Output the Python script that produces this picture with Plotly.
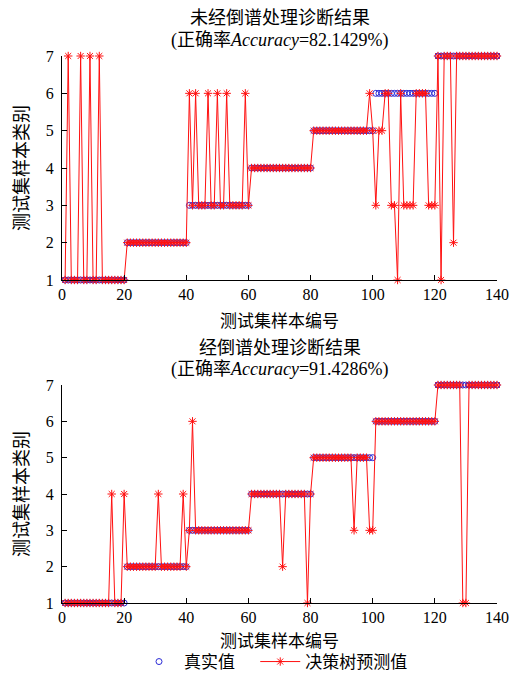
import plotly.graph_objects as go

sample_idx = list(range(1, 141))

true_labels = [
    1, 1, 1, 1, 1, 1, 1, 1, 1, 1, 1, 1, 1, 1, 1, 1, 1, 1, 1, 1,
    2, 2, 2, 2, 2, 2, 2, 2, 2, 2, 2, 2, 2, 2, 2, 2, 2, 2, 2, 2,
    3, 3, 3, 3, 3, 3, 3, 3, 3, 3, 3, 3, 3, 3, 3, 3, 3, 3, 3, 3,
    4, 4, 4, 4, 4, 4, 4, 4, 4, 4, 4, 4, 4, 4, 4, 4, 4, 4, 4, 4,
    5, 5, 5, 5, 5, 5, 5, 5, 5, 5, 5, 5, 5, 5, 5, 5, 5, 5, 5, 5,
    6, 6, 6, 6, 6, 6, 6, 6, 6, 6, 6, 6, 6, 6, 6, 6, 6, 6, 6, 6,
    7, 7, 7, 7, 7, 7, 7, 7, 7, 7, 7, 7, 7, 7, 7, 7, 7, 7, 7, 7,
]

pred_raw = [
    1, 7, 1, 1, 1, 7, 1, 1, 7, 1, 1, 7, 1, 1, 1, 1, 1, 1, 1, 1,
    2, 2, 2, 2, 2, 2, 2, 2, 2, 2, 2, 2, 2, 2, 2, 2, 2, 2, 2, 2,
    6, 3, 6, 3, 3, 3, 6, 3, 3, 6, 3, 3, 6, 3, 3, 3, 3, 3, 6, 3,
    4, 4, 4, 4, 4, 4, 4, 4, 4, 4, 4, 4, 4, 4, 4, 4, 4, 4, 4, 4,
    5, 5, 5, 5, 5, 5, 5, 5, 5, 5, 5, 5, 5, 5, 5, 5, 5, 5, 6, 5,
    3, 5, 5, 6, 6, 3, 3, 1, 6, 3, 3, 3, 3, 6, 6, 6, 6, 3, 3, 3,
    7, 1, 7, 7, 7, 2, 7, 7, 7, 7, 7, 7, 7, 7, 7, 7, 7, 7, 7, 7,
]

pred_cep = [
    1, 1, 1, 1, 1, 1, 1, 1, 1, 1, 1, 1, 1, 1, 1, 4, 1, 1, 1, 4,
    2, 2, 2, 2, 2, 2, 2, 2, 2, 2, 4, 2, 2, 2, 2, 2, 2, 2, 4, 2,
    3, 6, 3, 3, 3, 3, 3, 3, 3, 3, 3, 3, 3, 3, 3, 3, 3, 3, 3, 3,
    4, 4, 4, 4, 4, 4, 4, 4, 4, 4, 2, 4, 4, 4, 4, 4, 4, 4, 1, 4,
    5, 5, 5, 5, 5, 5, 5, 5, 5, 5, 5, 5, 5, 3, 5, 5, 5, 5, 3, 3,
    6, 6, 6, 6, 6, 6, 6, 6, 6, 6, 6, 6, 6, 6, 6, 6, 6, 6, 6, 6,
    7, 7, 7, 7, 7, 7, 7, 7, 1, 1, 7, 7, 7, 7, 7, 7, 7, 7, 7, 7,
]

x_ticks = [0, 20, 40, 60, 80, 100, 120, 140]
y_ticks = [1, 2, 3, 4, 5, 6, 7]

title_top_1 = "未经倒谱处理诊断结果"
title_top_2 = "(正确率<i>Accuracy</i>=82.1429%)"
title_bot_1 = "经倒谱处理诊断结果"
title_bot_2 = "(正确率<i>Accuracy</i>=91.4286%)"
x_label = "测试集样本编号"
y_label = "测试集样本类别"
legend_true = "真实值"
legend_pred = "决策树预测值"

W, H = 522, 673
BLUE = "#2b2bd6"
RED = "#ff1010"
SERIF = "Times New Roman, Liberation Serif, DejaVu Serif, serif"
MIXED = "Times New Roman, Liberation Serif, Noto Sans CJK SC, serif"
CJK = "Noto Sans CJK SC"

fig = go.Figure()

for i, pred in enumerate([pred_raw, pred_cep]):
    xa = "x" if i == 0 else "x2"
    ya = "y" if i == 0 else "y2"
    fig.add_trace(go.Scatter(
        x=sample_idx, y=true_labels, mode="markers",
        name=legend_true + "&nbsp;" * 4,
        xaxis=xa, yaxis=ya, cliponaxis=False, showlegend=(i == 0),
        marker=dict(symbol="circle-open", size=6, color=BLUE, line=dict(width=1, color=BLUE)),
    ))
    fig.add_trace(go.Scatter(
        x=sample_idx, y=pred, mode="lines+markers", name=legend_pred,
        xaxis=xa, yaxis=ya, cliponaxis=False, showlegend=(i == 0),
        line=dict(color=RED, width=1),
        marker=dict(symbol="asterisk-open", size=7, color=RED, line=dict(width=1, color=RED)),
    ))

def px_y(p):
    return 1 - p / H

def px_x(p):
    return p / W

xdom = [px_x(62), px_x(497)]
axis_common = dict(
    showgrid=False, zeroline=False, showline=True, linecolor="black", linewidth=1,
    ticks="inside", ticklen=5, tickcolor="black", tickwidth=1, mirror=False,
    tickfont=dict(family=SERIF, size=16, color="black"),
)
fig.update_layout(
    width=W, height=H,
    margin=dict(l=0, r=0, t=0, b=0, autoexpand=False),
    paper_bgcolor="white", plot_bgcolor="white",
    xaxis=dict(domain=xdom, range=[0, 140], tickvals=x_ticks, anchor="y", **axis_common),
    yaxis=dict(domain=[px_y(280), px_y(56)], range=[1, 7], tickvals=y_ticks, anchor="x",
               ticklabelstandoff=4, **axis_common),
    xaxis2=dict(domain=xdom, range=[0, 140], tickvals=x_ticks, anchor="y2", **axis_common),
    yaxis2=dict(domain=[px_y(603), px_y(385)], range=[1, 7], tickvals=y_ticks, anchor="x2",
                ticklabelstandoff=4, **axis_common),
    showlegend=True,
    legend=dict(
        orientation="h", x=px_x(134), y=px_y(662), xanchor="left", yanchor="middle",
        font=dict(family=CJK, size=17, color="black"), bgcolor="rgba(0,0,0,0)",
        itemwidth=40, tracegroupgap=0, borderwidth=0,
    ),
)

cx = px_x(279.5)
ann = []
def add_text(text, x, y, size=18, angle=0, family=CJK):
    ann.append(dict(text=text, x=x, y=y, xref="paper", yref="paper", showarrow=False,
                    xanchor="center", yanchor="middle", textangle=angle,
                    font=dict(family=family, size=size, color="black")))

add_text(title_top_1, cx, px_y(16))
add_text(title_top_2, cx, px_y(40), family=MIXED)
add_text(title_bot_1, cx, px_y(346))
add_text(title_bot_2, cx, px_y(369), family=MIXED)
add_text(x_label, cx, px_y(319), size=17)
add_text(x_label, cx, px_y(639), size=17)
add_text(y_label, px_x(20), px_y(168), angle=-90)
add_text(y_label, px_x(20), px_y(494), angle=-90)
fig.update_layout(annotations=ann)

fig.write_html("out.html")
